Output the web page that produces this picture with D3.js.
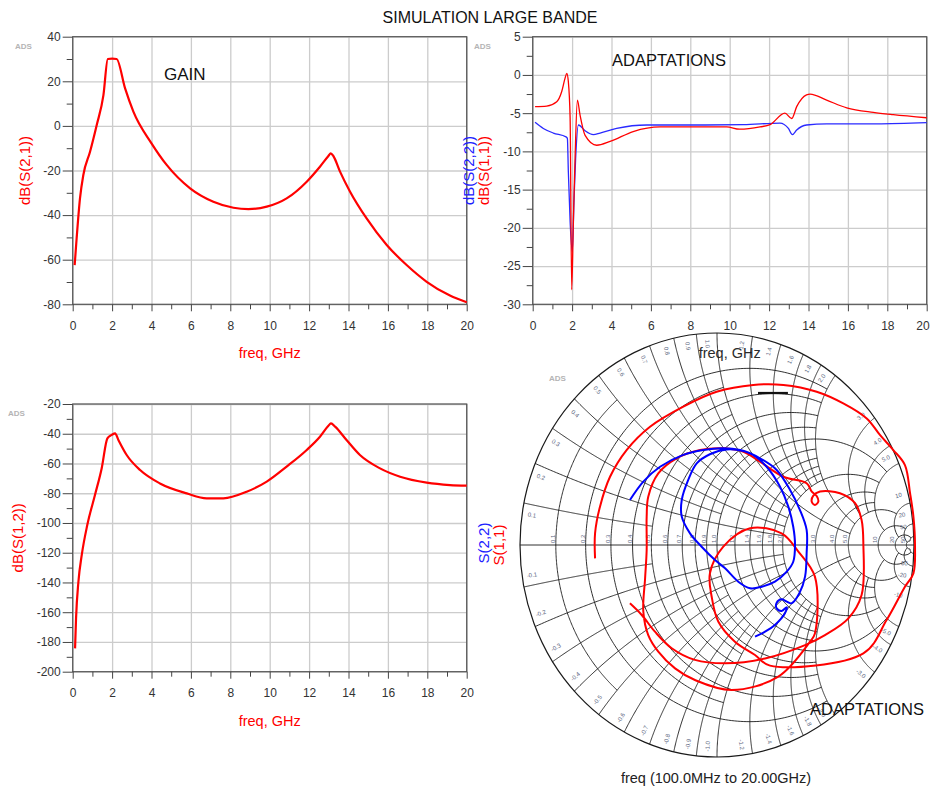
<!DOCTYPE html>
<html><head><meta charset="utf-8">
<script src="https://cdn.jsdelivr.net/npm/d3@7"></script>
<style>
body{margin:0;background:#fff}
svg{display:block}
text{font-family:"Liberation Sans",Arial,sans-serif}
</style></head>
<body><svg id="c" width="930" height="788"></svg>
<script>
// ---------- data ----------
const freqTicks = [0,2,4,6,8,10,12,14,16,18,20];
const gainTicks = [-80,-60,-40,-20,0,20,40];
const matchTicks = [-30,-25,-20,-15,-10,-5,0,5];
const s12Ticks = [-200,-180,-160,-140,-120,-100,-80,-60,-40,-20];

const s21Freq = [0.1,0.2,0.37,0.54,0.88,1.22,1.56,1.78,2.0,2.23,2.66,3.08,4.0,4.77,5.96,7.14,8.16,8.92,9.85,10.86,11.88,12.55,12.98,13.1,13.23,13.57,14.08,14.92,15.94,16.95,17.97,19.15,20];
const s21dB = [-62.4,-50.4,-32.5,-22,-11.6,0.4,13.8,30,30.2,30,16.8,6.4,-7.8,-17.5,-28,-34,-36.7,-37.3,-36.2,-32.5,-25,-18.3,-13.5,-12.3,-13.5,-20.5,-29.5,-41.5,-53.4,-62.4,-69.9,-76.1,-79.1];

const s12Freq = [0.12,0.17,0.29,0.46,0.74,1.13,1.47,1.76,1.98,2.15,2.32,2.74,3.42,4.43,5.79,6.8,7.65,8.83,9.85,10.86,11.88,12.55,12.98,13.11,13.32,13.9,14.58,15.6,16.62,17.97,19.15,20];
const s12dB = [-184.3,-164.1,-139.5,-121.5,-101.4,-81.2,-63.3,-43.1,-40.8,-39.7,-44.2,-54.3,-64.4,-73.4,-80.1,-83.4,-83.4,-79,-72.2,-62.1,-50.9,-42,-34.6,-33,-35.2,-44.2,-54.3,-63.3,-68.9,-72.9,-74.5,-74.9];

const s11Freq = [0.12,0.71,1.22,1.47,1.64,1.73,1.81,1.9,1.98,2.06,2.15,2.27,2.4,2.66,3.25,3.93,5.1,6.46,8.16,9.85,10.5,11.54,12.05,12.8,13.15,13.4,13.9,14.08,14.92,15.94,17.29,18.3,20];
const s11dB = [-4.15,-4.07,-3.5,-2.2,-0.45,0.2,-0.9,-5.7,-28.1,-19.6,-10.9,-3.3,-5.2,-7.9,-9.2,-8.7,-7.4,-6.8,-6.8,-6.8,-7.1,-6.8,-6.5,-5.0,-5.7,-4.15,-2.6,-2.5,-3.3,-4.3,-4.9,-5.2,-5.6];

const s22Freq = [0.12,0.54,1.05,1.69,1.76,1.81,1.9,2.01,2.1,2.18,2.32,2.66,3.08,3.42,4.26,5.79,8.16,10.69,12.55,12.98,13.18,13.4,13.9,14.92,17.46,20];
const s22dB = [-6.2,-7.0,-7.6,-8.1,-8.3,-12.7,-19.2,-23.1,-16.1,-10.9,-6.55,-7.3,-7.8,-7.6,-7.0,-6.55,-6.55,-6.5,-6.3,-7.0,-7.8,-7.2,-6.55,-6.4,-6.4,-6.25];

// Smith chart: reflection coefficient (real, imag)
const smithS11Re = [-0.619,-0.619,-0.594,-0.543,-0.459,-0.340,-0.171,-0.002,0.184,0.337,0.506,0.641,0.760,0.827,0.895,0.954,0.980,0.997,1.005,0.997,0.954,0.861,0.743,0.269,0.193,0.091,0.007,-0.027,-0.036,0.032,0.168,0.328,0.413,0.497,0.497,0.472,0.311,0.074,-0.112,-0.213,-0.298,-0.349,-0.374,-0.365,-0.357,-0.357,-0.349,-0.298,-0.205,-0.086,0.032,0.134,0.218,0.337,0.455,0.481,0.506,0.514,0.497,0.481,0.489,0.523,0.624,0.701,0.734,0.743,0.734,0.667,0.548,0.447,0.244,0.041,-0.112,-0.230,-0.315,-0.382,-0.442];
const smithS11Im = [-0.063,0.055,0.181,0.322,0.448,0.558,0.653,0.723,0.755,0.755,0.723,0.668,0.597,0.519,0.448,0.377,0.244,0.134,0,-0.134,-0.197,-0.354,-0.511,-0.569,-0.519,-0.456,-0.362,-0.244,-0.134,-0.008,0.079,0.055,-0.031,-0.149,-0.417,-0.456,-0.621,-0.684,-0.637,-0.582,-0.503,-0.425,-0.314,-0.157,-0.024,0.134,0.228,0.338,0.409,0.448,0.456,0.440,0.393,0.322,0.291,0.252,0.231,0.204,0.189,0.204,0.233,0.252,0.244,0.197,0.118,0,-0.236,-0.346,-0.425,-0.472,-0.535,-0.558,-0.542,-0.487,-0.409,-0.330,-0.275];
const smithS22Re = [-0.442,-0.374,-0.289,-0.171,-0.069,0.032,0.117,0.184,0.252,0.320,0.362,0.387,0.396,0.387,0.354,0.294,0.227,0.168,0.108,0.041,-0.010,-0.078,-0.137,-0.179,-0.179,-0.146,-0.103,-0.036,0.049,0.134,0.218,0.303,0.371,0.421,0.455,0.455,0.447,0.418,0.379,0.354,0.328,0.303,0.303,0.328,0.354,0.345,0.294,0.244,0.193];
const smithS22Im = [0.212,0.299,0.369,0.425,0.448,0.456,0.448,0.425,0.369,0.275,0.181,0.086,0,-0.079,-0.126,-0.173,-0.197,-0.204,-0.173,-0.110,-0.071,-0.008,0.055,0.134,0.212,0.307,0.385,0.428,0.451,0.443,0.409,0.354,0.259,0.165,0.071,-0.039,-0.149,-0.228,-0.275,-0.267,-0.256,-0.272,-0.299,-0.311,-0.294,-0.322,-0.377,-0.409,-0.432];
const smithMarkRe = [0.208,0.36];
const smithMarkIm = [0.717,0.717];

// Smith grid values and the limit each line is drawn to
const rCircles = [0.1,0.2,0.3,0.4,0.5,0.6,0.7,0.8,0.9,1.0,1.2,1.4,1.6,1.8,2.0,3.0,4.0,5.0,10,20,50];
const rLimits  = [0.5,2,1,2,1,2,1,2,1,5,2,2,2,2,5,5,5,10,20,50,50];
const xArcs    = [0.1,0.2,0.3,0.4,0.5,0.6,0.7,0.8,0.9,1.0,1.2,1.4,1.6,1.8,2.0,3.0,4.0,5.0,10,20,50];
const xLimits  = [0.5,2,1,2,1,2,1,2,1,5,2,2,2,2,5,5,5,10,20,50,50];

// ---------- drawing ----------
const svg = d3.select("#c");
const RED = "#ff0000", BLUE = "#0000ff";

svg.append("text").attr("x",490).attr("y",23).attr("text-anchor","middle")
  .attr("font-size",16).attr("fill","#111").text("SIMULATION LARGE BANDE");

function zip(a,b){return a.map((v,i)=>[v,b[i]]);}
function minors(t){return t.slice(1).map((v,i)=>(v+t[i])/2);}

function rectPlot(o){
  const x = d3.scaleLinear().domain([0,20]).range([o.left,o.right]);
  const y = d3.scaleLinear().domain([o.yTicks[0],o.yTicks[o.yTicks.length-1]]).range([o.bottom,o.top]);
  const W=o.right-o.left, H=o.bottom-o.top;
  const g = svg.append("g");
  const styleGrid = a=>{a.select(".domain").remove(); a.selectAll("line").attr("stroke","#cccccc").attr("stroke-width",1.3);};
  g.append("g").attr("transform",`translate(0,${o.top})`)
    .call(d3.axisBottom(x).tickValues(freqTicks).tickSize(H).tickFormat("")).call(styleGrid);
  g.append("g").attr("transform",`translate(${o.left},0)`)
    .call(d3.axisRight(y).tickValues(o.yTicks).tickSize(W).tickFormat("")).call(styleGrid);
  g.append("rect").attr("x",o.left).attr("y",o.top).attr("width",W).attr("height",H)
    .attr("fill","none").attr("stroke","#555").attr("stroke-width",1.2);
  const styleAx = a=>{a.select(".domain").remove(); a.selectAll("line").attr("stroke","#444");
    a.selectAll("text").attr("fill","#333").attr("font-size",12).attr("font-family",'"Liberation Sans",Arial,sans-serif');};
  const xa = g.append("g").attr("transform",`translate(0,${o.bottom})`)
    .call(d3.axisBottom(x).tickValues(freqTicks).tickSize(7).tickPadding(10).tickFormat(d=>String(d))).call(styleAx);
  if(o.fitLast){
    xa.selectAll(".tick").filter(d=>d===freqTicks[freqTicks.length-1]).select("text")
      .attr("text-anchor","end").attr("dx",2.5);
  }
  g.append("g").attr("transform",`translate(0,${o.bottom})`)
    .call(d3.axisBottom(x).tickValues(minors(freqTicks)).tickSize(5).tickFormat("")).call(styleAx);
  g.append("g").attr("transform",`translate(${o.left},0)`)
    .call(d3.axisLeft(y).tickValues(o.yTicks).tickSize(10).tickPadding(2).tickFormat(d=>String(d))).call(styleAx);
  g.append("g").attr("transform",`translate(${o.left},0)`)
    .call(d3.axisLeft(y).tickValues(minors(o.yTicks)).tickSize(6).tickFormat("")).call(styleAx);
  const line = d3.line().x(d=>x(d[0])).y(d=>y(d[1])).curve(d3.curveMonotoneX);
  o.series.forEach(s=>{
    g.append("path").attr("d",line(zip(s.f,s.v))).attr("fill","none")
      .attr("stroke",s.color).attr("stroke-width",s.w).attr("stroke-linejoin","round");
  });
  o.yLabels.forEach(l=>{
    g.append("text").attr("transform",`translate(${l.x},${(o.top+o.bottom)/2}) rotate(-90)`)
      .attr("text-anchor","middle").attr("font-size",15).attr("fill",l.color).text(l.text);
  });
  g.append("text").attr("x",(o.left+o.right)/2).attr("y",o.bottom+54).attr("text-anchor","middle")
    .attr("font-size",14.5).attr("fill",o.xColor).text("freq, GHz");
  g.append("text").attr("x",o.adsX).attr("y",o.top+12).attr("font-size",8).attr("font-weight","bold")
    .attr("fill","#b4b4b4").text("ADS");
  return {x,y,g};
}

const pA = rectPlot({left:72.7,right:466.7,top:36.7,bottom:304.3,yTicks:gainTicks,
  series:[{f:s21Freq,v:s21dB,color:RED,w:2.2}],
  yLabels:[{x:30,text:"dB(S(2,1))",color:RED}], xColor:RED, adsX:15});
pA.g.append("text").attr("x",164).attr("y",80).attr("font-size",17).attr("fill","#111").text("GAIN");

const pC = rectPlot({left:72.7,right:466.7,top:404,bottom:671.7,yTicks:s12Ticks,
  series:[{f:s12Freq,v:s12dB,color:RED,w:2.2}],
  yLabels:[{x:23,text:"dB(S(1,2))",color:RED}], xColor:RED, adsX:8});

const pB = rectPlot({left:532.7,right:926.7,top:36.7,bottom:304.3,yTicks:matchTicks,fitLast:true,
  series:[{f:s22Freq,v:s22dB,color:"#2a2aff",w:1.3},{f:s11Freq,v:s11dB,color:RED,w:1.3}],
  yLabels:[{x:474,text:"dB(S(2,2))",color:"#2020ff"},{x:489,text:"dB(S(1,1))",color:RED}], xColor:"#2b2b2b", adsX:474});
pB.g.append("text").attr("x",612).attr("y",66).attr("font-size",16.5).attr("fill","#111").text("ADAPTATIONS");

// ---------- Smith chart ----------
const cx=717, cy=545, rx=197, ry=212;
const sx = d3.scaleLinear().domain([-1,1]).range([cx-rx,cx+rx]);
const sy = d3.scaleLinear().domain([-1,1]).range([cy+ry,cy-ry]);
function gam(r,x){const d=(r+1)*(r+1)+x*x;return [(r*r+x*x-1)/d, 2*x/d];}
const sLine = d3.line().x(p=>sx(p[0])).y(p=>sy(p[1]));
const sg = svg.append("g");
const gridG = sg.append("g").attr("fill","none").attr("stroke","#1a1a1a").attr("stroke-width",0.9);
rCircles.forEach((r,i)=>{
  const a=Math.atan(rLimits[i]);
  const pts=d3.range(0,241).map(k=>gam(r,Math.tan(-a+2*a*k/240)));
  gridG.append("path").attr("d",sLine(pts));
});
xArcs.forEach((xv,i)=>{
  const a=Math.atan(xLimits[i]);
  [1,-1].forEach(sg2=>{
    const pts=d3.range(0,241).map(k=>gam(Math.tan(a*k/240),sg2*xv));
    gridG.append("path").attr("d",sLine(pts));
  });
});
gridG.append("line").attr("x1",sx(-1)).attr("x2",sx(1)).attr("y1",sy(0)).attr("y2",sy(0));
gridG.append("ellipse").attr("cx",sx(0)).attr("cy",sy(0)).attr("rx",sx(1)-sx(0)).attr("ry",sy(-1)-sy(0))
  .attr("stroke-width",1.2);

const fmt = v=> v>=10 ? String(v) : v.toFixed(1);
const labG = sg.append("g").attr("font-size",6).attr("fill","#5a6680");
rCircles.forEach(r=>{
  const p=gam(r,0);
  labG.append("text").attr("transform",`translate(${sx(p[0])-1},${sy(0)-2}) rotate(-90)`).text(fmt(r));
});
xArcs.forEach(xv=>{
  [1,-1].forEach(s=>{
    const p=gam(0,s*xv);
    const th=Math.atan2(p[1],p[0])+s*0.05;
    const R=0.95;
    const px=sx(R*Math.cos(th)), py=sy(R*Math.sin(th));
    const deg=th*180/Math.PI;
    const rot = Math.abs(deg)<=90 ? -deg : -(deg-180*Math.sign(deg));
    labG.append("text").attr("transform",`translate(${px},${py}) rotate(${rot})`)
      .attr("text-anchor","middle").attr("dy","0.35em").text((s<0?"-":"")+fmt(xv));
  });
});

const gLine = d3.line().x(p=>sx(p[0])).y(p=>sy(p[1])).curve(d3.curveCatmullRom.alpha(0.5));
sg.append("path").attr("d",sLine(zip(smithMarkRe,smithMarkIm))).attr("stroke","#111").attr("stroke-width",2.2);
sg.append("path").attr("d",gLine(zip(smithS11Re,smithS11Im))).attr("fill","none").attr("stroke",RED).attr("stroke-width",2);
sg.append("path").attr("d",gLine(zip(smithS22Re,smithS22Im))).attr("fill","none").attr("stroke",BLUE).attr("stroke-width",2);

sg.append("text").attr("x",549).attr("y",381).attr("font-size",8).attr("font-weight","bold").attr("fill","#b4b4b4").text("ADS");
sg.append("text").attr("transform","translate(489,543) rotate(-90)").attr("text-anchor","middle")
  .attr("font-size",15).attr("fill","#2020ff").text("S(2,2)");
sg.append("text").attr("transform","translate(504,545) rotate(-90)").attr("text-anchor","middle")
  .attr("font-size",15).attr("fill",RED).text("S(1,1)");
sg.append("text").attr("x",810).attr("y",715).attr("font-size",16.5).attr("fill","#111").text("ADAPTATIONS");
sg.append("text").attr("x",716).attr("y",783).attr("text-anchor","middle").attr("font-size",14.5).attr("fill","#222")
  .text("freq (100.0MHz to 20.00GHz)");
</script>
</body></html>
